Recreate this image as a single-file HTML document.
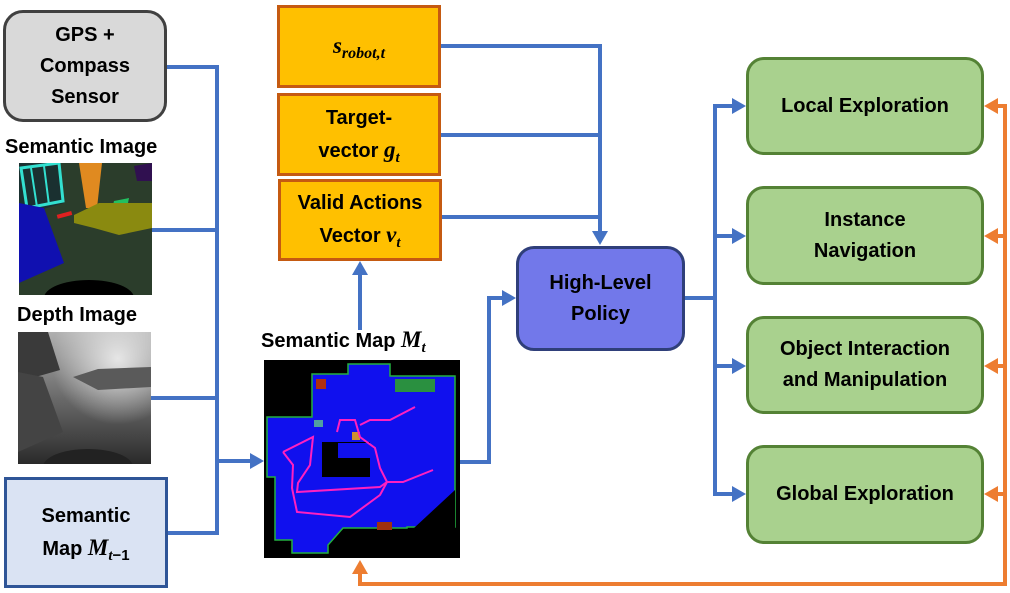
<!DOCTYPE html>
<html><head><meta charset="utf-8"><style>
body{margin:0;background:#fff;}
.wrap{position:relative;width:1010px;height:593px;overflow:hidden;font-family:"Liberation Sans",sans-serif;font-weight:bold;color:#000;}
.box{position:absolute;box-sizing:border-box;display:flex;align-items:center;justify-content:center;text-align:center;font-size:20px;line-height:31px;}
.lbl{position:absolute;font-size:20px;white-space:nowrap;}
i{font-family:"Liberation Serif",serif;font-weight:bold;font-size:23px;}
sub{font-size:15px;vertical-align:-5px;line-height:0;}
svg{position:absolute;left:0;top:0;}
</style></head><body><div class="wrap">

<svg width="1010" height="593">
<defs>
<clipPath id="c1"><rect width="133" height="132"/></clipPath>
<linearGradient id="dg" x1="0" y1="0" x2="0" y2="1"><stop offset="0" stop-color="#b0b0b0"/><stop offset="0.5" stop-color="#6a6a6a"/><stop offset="1" stop-color="#2a2a2a"/></linearGradient>
<radialGradient id="dr" cx="0.75" cy="0.2" r="0.5"><stop offset="0" stop-color="#e6e6e6"/><stop offset="1" stop-color="#e6e6e6" stop-opacity="0"/></radialGradient>
</defs>
<g stroke="#4472C4" stroke-width="4" fill="none">
<polyline points="167,67 217,67 217,533 168,533"/>
<line x1="152" y1="230" x2="217" y2="230"/>
<line x1="151" y1="398" x2="217" y2="398"/>
<line x1="217" y1="461" x2="252" y2="461"/>
<line x1="360" y1="330" x2="360" y2="274"/>
<polyline points="441,46 600,46 600,232"/>
<line x1="441" y1="135" x2="600" y2="135"/>
<line x1="442" y1="217" x2="600" y2="217"/>
<polyline points="460,462 489,462 489,298 503,298"/>
<line x1="685" y1="298" x2="715" y2="298"/>
<polyline points="733,106 715,106 715,494 733,494"/>
<line x1="715" y1="236" x2="733" y2="236"/>
<line x1="715" y1="366" x2="733" y2="366"/>
</g>
<g fill="#4472C4">
<polygon points="264,461 250,453 250,469"/>
<polygon points="360,261 352,275 368,275"/>
<polygon points="600,245 592,231 608,231"/>
<polygon points="516,298 502,290 502,306"/>
<polygon points="746,106 732,98 732,114"/>
<polygon points="746,236 732,228 732,244"/>
<polygon points="746,366 732,358 732,374"/>
<polygon points="746,494 732,486 732,502"/>
</g>
<g stroke="#ED7D31" stroke-width="4" fill="none">
<polyline points="996,106 1005,106 1005,584 360,584 360,572"/>
<line x1="996" y1="236" x2="1005" y2="236"/>
<line x1="996" y1="366" x2="1005" y2="366"/>
<line x1="996" y1="494" x2="1005" y2="494"/>
</g>
<g fill="#ED7D31">
<polygon points="984,106 998,98 998,114"/>
<polygon points="984,236 998,228 998,244"/>
<polygon points="984,366 998,358 998,374"/>
<polygon points="984,494 998,486 998,502"/>
<polygon points="360,560 352,574 368,574"/>
</g>

<g transform="translate(19,163)" clip-path="url(#c1)">
<rect width="133" height="132" fill="#2b3d2b"/>
<polygon points="0,0 40,0 45,40 10,50 0,45" fill="#1a3030"/>
<polygon points="2,5 40,0 44,38 8,45" fill="none" stroke="#33e0d0" stroke-width="3"/>
<line x1="12" y1="5" x2="18" y2="44" stroke="#33e0d0" stroke-width="2"/>
<line x1="25" y1="3" x2="30" y2="42" stroke="#33e0d0" stroke-width="2"/>
<polygon points="60,0 83,0 78,45 67,45" fill="#e08a20"/>
<polygon points="95,38 110,35 108,45 93,46" fill="#22c060"/>
<polygon points="55,52 80,40 133,40 133,65 100,72 75,65 55,60" fill="#8a8a10"/>
<rect x="38" y="50" width="15" height="4" fill="#e02020" transform="rotate(-15 45 52)"/>
<polygon points="0,40 25,45 45,100 0,120" fill="#1010b0"/>
<ellipse cx="70" cy="135" rx="45" ry="18" fill="#000"/>
<polygon points="115,3 133,0 133,18 118,18" fill="#301050"/>
</g>
<g transform="translate(18,332)" clip-path="url(#c1)">
<rect width="133" height="132" fill="url(#dg)"/>
<rect width="133" height="132" fill="url(#dr)"/>
<polygon points="0,0 30,0 42,38 0,50" fill="#3a3a3a"/>
<polygon points="0,40 25,45 45,100 0,120" fill="#444"/>
<polygon points="55,45 80,37 133,35 133,55 80,58" fill="#5a5a5a"/>
<ellipse cx="70" cy="135" rx="45" ry="18" fill="#222"/>
</g>
<g transform="translate(264,360)">
<rect width="196" height="198" fill="#000"/>
<polygon points="48,14 84,14 84,4 126,4 126,16 191,16 191,167 143,167 143,168 79,168 64,185 64,193 28,193 28,180 11,180 11,117 3,117 3,57 48,57" fill="#1010ee" stroke="#22b040" stroke-width="1.5"/>
<rect x="58" y="82" width="48" height="35" fill="#000"/>
<rect x="74" y="83" width="32" height="15" fill="#1010ee"/>
<polygon points="150,168 191,130 191,190 150,190" fill="#000"/>
<rect x="131" y="19" width="40" height="13" fill="#2a9040"/>
<rect x="88" y="72" width="8" height="8" fill="#d09030"/>
<rect x="50" y="60" width="9" height="7" fill="#50a0a0"/>
<rect x="113" y="162" width="15" height="8" fill="#a03010"/>
<rect x="52" y="19" width="10" height="10" fill="#b03010"/>
<g fill="none" stroke="#ff20c0" stroke-width="2">
<polyline points="19,92 49,77 46,105 34,123 33,132 116,127 123,122 139,122 169,110"/>
<polyline points="123,122 116,108 111,88 96,77 91,60 76,60 73,72"/>
<polyline points="96,65 106,60 126,60 151,47"/>
<polyline points="19,92 29,105 28,128 33,152 86,157 116,135 123,122"/>
</g>
</g>
</svg>

<div class="box" style="left:3px;top:10px;width:164px;height:112px;background:#d9d9d9;border:3px solid #404040;border-radius:20px;"><div>GPS +<br>Compass<br>Sensor</div></div>
<div class="lbl" style="left:5px;top:136px;">Semantic Image</div>
<div class="lbl" style="left:17px;top:304px;">Depth Image</div>
<div class="box" style="left:4px;top:477px;width:164px;height:111px;background:#dae3f3;border:3px solid #2f5597;"><div>Semantic<br>Map <i>M</i><sub><i style="font-size:15px">t</i>−1</sub></div></div>

<div class="box" style="left:277px;top:5px;width:164px;height:83px;background:#ffc000;border:3px solid #c55a11;"><div><i>s</i><sub><i style="font-size:16px">robot,t</i></sub></div></div>
<div class="box" style="left:277px;top:93px;width:164px;height:83px;background:#ffc000;border:3px solid #c55a11;"><div>Target-<br>vector <i>g</i><sub><i style="font-size:15px">t</i></sub></div></div>
<div class="box" style="left:278px;top:179px;width:164px;height:82px;background:#ffc000;border:3px solid #c55a11;"><div>Valid Actions<br>Vector <i>v</i><sub><i style="font-size:15px">t</i></sub></div></div>

<div class="lbl" style="left:261px;top:327px;">Semantic Map <i>M</i><sub><i style="font-size:15px">t</i></sub></div>

<div class="box" style="left:516px;top:246px;width:169px;height:105px;background:#7278ea;border:3px solid #2f3f7a;border-radius:18px;"><div>High-Level<br>Policy</div></div>

<div class="box" style="left:746px;top:57px;width:238px;height:98px;background:#a9d18e;border:3px solid #548235;border-radius:18px;"><div>Local Exploration</div></div>
<div class="box" style="left:746px;top:186px;width:238px;height:99px;background:#a9d18e;border:3px solid #548235;border-radius:18px;"><div>Instance<br>Navigation</div></div>
<div class="box" style="left:746px;top:316px;width:238px;height:98px;background:#a9d18e;border:3px solid #548235;border-radius:18px;"><div>Object Interaction<br>and Manipulation</div></div>
<div class="box" style="left:746px;top:445px;width:238px;height:99px;background:#a9d18e;border:3px solid #548235;border-radius:18px;"><div>Global Exploration</div></div>

</div></body></html>
